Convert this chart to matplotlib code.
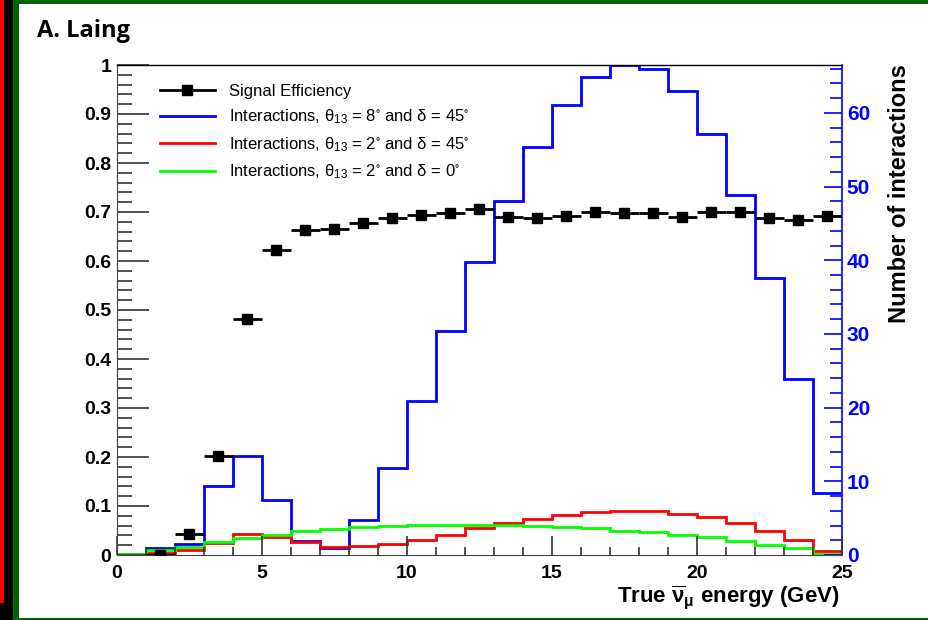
import matplotlib
matplotlib.use("Agg")
import matplotlib.pyplot as plt
from matplotlib.patches import Rectangle
from matplotlib.lines import Line2D
from matplotlib.ticker import MultipleLocator

plt.rcParams['font.family'] = ['Liberation Sans', 'DejaVu Sans']
plt.rcParams['mathtext.fontset'] = 'custom'
plt.rcParams['mathtext.rm'] = 'Liberation Sans'
plt.rcParams['mathtext.it'] = 'Liberation Sans'
plt.rcParams['mathtext.bf'] = 'Liberation Sans:bold'
plt.rcParams['mathtext.default'] = 'regular'

# ---- data ----
bin_edges = list(range(0, 26))
eff_centers = [1.5, 2.5, 3.5, 4.5, 5.5, 6.5, 7.5, 8.5, 9.5, 10.5, 11.5, 12.5,
               13.5, 14.5, 15.5, 16.5, 17.5, 18.5, 19.5, 20.5, 21.5, 22.5, 23.5, 24.5]
eff_values = [0.0, 0.043, 0.202, 0.481, 0.622, 0.663, 0.665, 0.678, 0.688, 0.694,
              0.698, 0.706, 0.690, 0.687, 0.692, 0.699, 0.697, 0.697, 0.690, 0.699,
              0.699, 0.687, 0.684, 0.692]
blue_counts = [0.0, 1.0, 1.5, 9.3, 13.4, 7.5, 1.9, 1.0, 4.75, 11.8, 20.9, 30.4, 39.8,
               48.1, 55.4, 61.1, 64.9, 66.5, 65.9, 63.0, 57.2, 48.8, 37.6, 23.9, 8.4]
red_counts = [0.1, 0.3, 0.7, 1.6, 2.9, 2.5, 1.8, 1.1, 1.2, 1.5, 2.0, 2.7, 3.7,
              4.4, 4.9, 5.4, 5.8, 6.0, 6.0, 5.6, 5.2, 4.4, 3.3, 2.1, 0.6]
green_counts = [0.2, 0.7, 1.1, 1.7, 2.3, 2.7, 3.2, 3.5, 3.8, 3.9, 4.1, 4.1, 4.1,
                4.1, 4.0, 3.8, 3.6, 3.3, 3.1, 2.7, 2.4, 1.9, 1.4, 0.9, 0.1]
labels = ["Signal Efficiency",
          r"Interactions, θ$_{13}$ = 8$^{\circ}$ and δ = 45$^{\circ}$",
          r"Interactions, θ$_{13}$ = 2$^{\circ}$ and δ = 45$^{\circ}$",
          r"Interactions, θ$_{13}$ = 2$^{\circ}$ and δ = 0$^{\circ}$"]
left_ticks = [0, 0.1, 0.2, 0.3, 0.4, 0.5, 0.6, 0.7, 0.8, 0.9, 1.0]
left_ticklabels = ['0', '0.1', '0.2', '0.3', '0.4', '0.5', '0.6', '0.7', '0.8', '0.9', '1']

W, H = 929, 620
fig = plt.figure(figsize=(W / 100, H / 100), dpi=100)
fig.patch.set_facecolor('white')

# frame decorations
def frect(x0, y0, w, h, c):
    fig.patches.append(Rectangle((x0 / W, 1 - (y0 + h) / H), w / W, h / H,
                                 transform=fig.transFigure, color=c, zorder=0, lw=0))
frect(0, 0, 13, H, 'black')
frect(0, 0, 4.5, 603, '#ff0000')
frect(13, 0, 6, H, '#006400')
frect(13, 0, W - 13, 3.5, '#006400')
frect(13, 617.5, W - 13, 2.5, '#006400')

ax = fig.add_axes([117 / W, 1 - 555 / H, 725 / W, 490 / H])
ax2 = ax.twinx()

ax.set_xlim(0, 25)
ax.set_ylim(0, 1)
ax2.set_ylim(0, 66.5)

# histograms
ax2.stairs(blue_counts, bin_edges, color='#0000ff', lw=2.0, baseline=None)
ax2.stairs(red_counts, bin_edges, color='#ff0000', lw=2.0, baseline=None)
ax2.stairs(green_counts, bin_edges, color='#00ff00', lw=2.0, baseline=None)

# efficiency
ax.errorbar(eff_centers, eff_values, xerr=0.5, yerr=0.008, fmt='s', color='black',
            ms=7, elinewidth=2.0, capsize=0, zorder=5)
ax.set_zorder(ax2.get_zorder() + 1)
ax.patch.set_visible(False)

# axes styling
ax.spines['top'].set_color('black')
ax.spines['top'].set_linewidth(1.0)
ax.spines['left'].set_color('#444444')
ax.spines['bottom'].set_color('#444444')
ax.spines['right'].set_visible(False)
ax2.spines['right'].set_color('#0000ff')
ax2.spines['right'].set_linewidth(1.2)
for s in ['top', 'left', 'bottom']:
    ax2.spines[s].set_visible(False)

ax.set_yticks(left_ticks)
ax.set_yticklabels(left_ticklabels)
ax.yaxis.set_minor_locator(MultipleLocator(0.02))
ax.xaxis.set_major_locator(MultipleLocator(5))
ax.xaxis.set_minor_locator(MultipleLocator(1))
ax.tick_params(axis='y', which='major', direction='in', length=23, width=1.2,
               color='#333333', labelsize=14, pad=4)
ax.tick_params(axis='y', which='minor', direction='in', length=11, width=1.2, color='#333333')
ax.tick_params(axis='x', which='major', direction='in', length=14, width=1.2,
               color='#333333', labelsize=14, pad=7)
ax.tick_params(axis='x', which='minor', direction='in', length=6, width=1.2, color='#333333')
for t in ax.get_xticklabels() + ax.get_yticklabels():
    t.set_fontweight('bold')

ax2.yaxis.set_major_locator(MultipleLocator(10))
ax2.yaxis.set_minor_locator(MultipleLocator(2))
ax2.tick_params(axis='y', which='major', direction='in', length=13, width=1.2,
                color='#0000ff', labelcolor='#0000ff', labelsize=15, pad=3.5)
ax2.tick_params(axis='y', which='minor', direction='in', length=9, width=1.2, color='#0000ff')
for t in ax2.get_yticklabels():
    t.set_fontweight('bold')

# axis titles
fig.text(840 / W, 1 - 597 / H, r"True $\overline{\nu}_{\mu}$ energy (GeV)", ha='right', va='center',
         fontsize=16, fontweight='bold')
fig.text(900 / W, 1 - 194 / H, "Number of interactions", rotation=90, ha='center', va='center',
         fontsize=17, fontweight='bold')

# title
fig.text(37 / W, 1 - 31 / H, "A. Laing", ha='left', va='center', fontsize=17,
         fontweight='bold', family=['Open Sans', 'DejaVu Sans'])

# legend
handles = [Line2D([], [], color='black', lw=2, marker='s', ms=7),
           Line2D([], [], color='#0000ff', lw=2),
           Line2D([], [], color='#ff0000', lw=2),
           Line2D([], [], color='#00ff00', lw=2)]
ax.legend(handles, labels, loc='upper left', bbox_to_anchor=(0.059, 0.961),
          frameon=False, fontsize=12, handlelength=3.3, handletextpad=0.84,
          labelspacing=0.52, borderaxespad=0, borderpad=0)

fig.savefig("out.png", dpi=100, facecolor='white')
